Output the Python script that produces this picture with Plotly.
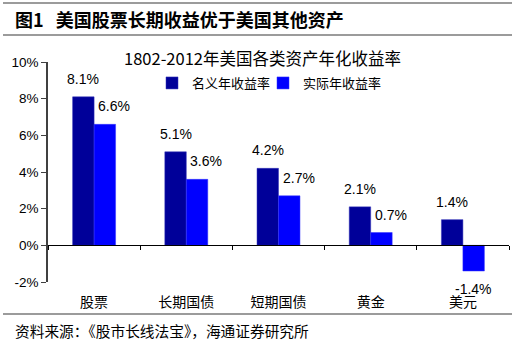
import plotly.graph_objects as go

categories = ["股票", "长期国债", "短期国债", "黄金", "美元"]
nominal = [8.1, 5.1, 4.2, 2.1, 1.4]
real = [6.6, 3.6, 2.7, 0.7, -1.4]
series_names = ["名义年收益率", "实际年收益率"]
tick_vals = [-2, 0, 2, 4, 6, 8, 10]
tick_text = ["-2%", "0%", "2%", "4%", "6%", "8%", "10%"]

W, H = 522, 355
L, R, T, B = 48, 13, 62, 73
pw, ph = W - L - R, H - T - B
BARGAP = 0.534
YMIN, YMAX = -2, 10

def px(X):  # page pixel -> paper x
    return (X - L) / pw

def py(Y):  # page pixel -> paper y
    return (H - B - Y) / ph

cjk = "Noto Sans CJK SC"
lat = "Liberation Sans, Arial"
colors = ["#000099", "#0000ff"]
edges = ["#3333bb", "#3333ff"]
legends = ["legend", "legend2"]

fig = go.Figure()
for name, vals, c, e, lg in zip(series_names, [nominal, real], colors, edges, legends):
    fig.add_trace(go.Bar(
        x=categories, y=vals, name=name, legend=lg,
        marker=dict(color=c, line=dict(color=e, width=0.5)),
    ))

annotations = []
bw = pw / len(categories) * (1 - BARGAP) / 2  # one bar width, px
lab_font = dict(family=lat, size=14, color="#000000")
for cat, v in zip(categories, nominal):
    annotations.append(dict(text=f"{v:.1f}%", x=cat, y=v, xref="x", yref="y",
                            xanchor="center", yanchor="bottom", xshift=-bw / 2,
                            yshift=8, showarrow=False, font=lab_font))
for cat, v in zip(categories, real):
    if v >= 0:
        annotations.append(dict(text=f"{v:.1f}%", x=cat, y=v, xref="x", yref="y",
                                xanchor="left", yanchor="bottom", xshift=2,
                                yshift=8, showarrow=False, font=lab_font))
    else:
        annotations.append(dict(text=f"{v:.1f}%", x=cat, y=v, xref="x", yref="y",
                                xanchor="center", yanchor="top", xshift=bw / 2,
                                yshift=-8, showarrow=False, font=lab_font))

shapes = []
for Y in (3, 35, 314):
    shapes.append(dict(type="line", xref="paper", yref="paper",
                       x0=px(3), x1=px(512), y0=py(Y), y1=py(Y),
                       line=dict(color="#7a7a7a", width=1.5)))

annotations += [
    dict(text="<b>图1</b>   <b>美国股票长期收益优于美国其他资产</b>", xref="paper", yref="paper",
         x=px(13), y=py(19), xanchor="left", yanchor="middle", showarrow=False,
         font=dict(family=cjk, size=18, color="#000000")),
    dict(text="1802-2012年美国各类资产年化收益率", xref="paper", yref="paper",
         x=px(262), y=py(58), xanchor="center", yanchor="middle", showarrow=False,
         font=dict(family=cjk, size=16.5, color="#000000")),
    dict(text="资料来源：《股市长线法宝》，海通证券研究所", xref="paper", yref="paper",
         x=px(13), y=py(330), xanchor="left", yanchor="middle", showarrow=False,
         font=dict(family=cjk, size=14.7, color="#000000")),
]

leg_common = dict(orientation="h", xanchor="left", yanchor="middle",
                  font=dict(family=cjk, size=13, color="#000000"),
                  itemwidth=30, bgcolor="rgba(0,0,0,0)")

fig.update_layout(
    width=W, height=H,
    margin=dict(l=L, r=R, t=T, b=B, pad=0),
    paper_bgcolor="white", plot_bgcolor="white",
    barmode="group", bargap=BARGAP, bargroupgap=0,
    showlegend=True, hovermode=False,
    legend=dict(x=px(152), y=py(83), **leg_common),
    legend2=dict(x=px(263), y=py(83), **leg_common),
    shapes=shapes, annotations=annotations,
    # category axis drawn along the zero line, labels pushed down to the bottom
    xaxis=dict(anchor="free", position=(0 - YMIN) / (YMAX - YMIN),
               showline=True, linecolor="#000000", linewidth=1,
               ticks="outside", tickson="boundaries", ticklen=4, tickcolor="#000000",
               ticklabelstandoff=44, showgrid=False, zeroline=False,
               tickfont=dict(family=cjk, size=14, color="#000000"),
               range=[-0.5, 4.5]),
    yaxis=dict(range=[YMIN, YMAX], tickvals=tick_vals, ticktext=tick_text,
               showline=True, linecolor="#404040", linewidth=1.5,
               ticks="outside", ticklen=5, tickcolor="#404040",
               showgrid=False, zeroline=False,
               tickfont=dict(family=lat, size=13.5, color="#000000")),
)

fig.write_html("out.html", config={"displayModeBar": False},
               post_script="document.body.style.margin='0';")
